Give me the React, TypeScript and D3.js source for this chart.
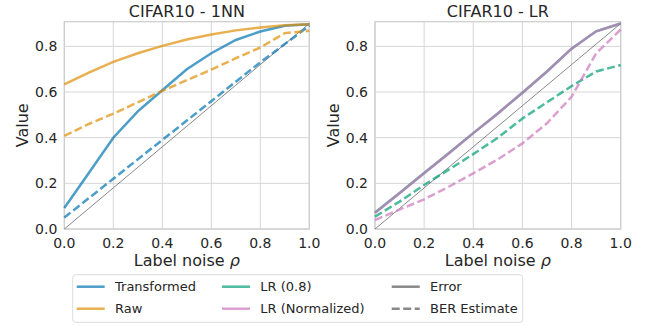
import * as d3 from "d3";
import { useEffect, useRef } from "react";

const noise = [0, 0.1, 0.2, 0.3, 0.4, 0.5, 0.6, 0.7, 0.8, 0.9, 1.0];
const yTicks = [0, 0.2, 0.4, 0.6, 0.8];
const xTicks = [0, 0.2, 0.4, 0.6, 0.8, 1.0];

// CIFAR10 - 1NN
const transformedErr = [0.092, 0.245, 0.4, 0.515, 0.608, 0.7, 0.77, 0.828, 0.865, 0.89, 0.897];
const transformedBer = [0.05, 0.135, 0.22, 0.305, 0.39, 0.475, 0.56, 0.645, 0.73, 0.81, 0.89];
const rawErr = [0.633, 0.685, 0.732, 0.77, 0.802, 0.83, 0.852, 0.87, 0.883, 0.892, 0.897];
const rawBer = [0.408, 0.46, 0.505, 0.555, 0.605, 0.652, 0.698, 0.748, 0.795, 0.858, 0.868];
const errorLine = [0, 0.09, 0.18, 0.27, 0.36, 0.45, 0.54, 0.63, 0.72, 0.81, 0.9];

// CIFAR10 - LR
const lr08Err = [0.072, 0.158, 0.245, 0.332, 0.42, 0.506, 0.597, 0.69, 0.79, 0.866, 0.9];
const lr08Ber = [0.054, 0.12, 0.193, 0.26, 0.328, 0.4, 0.484, 0.555, 0.626, 0.69, 0.718];
const lrNormErr = [0.07, 0.157, 0.244, 0.331, 0.42, 0.506, 0.597, 0.69, 0.79, 0.866, 0.9];
const lrNormBer = [0.039, 0.085, 0.13, 0.185, 0.244, 0.305, 0.375, 0.463, 0.579, 0.769, 0.874];

const blue = "#0173b2";
const orange = "#de8f05";
const green = "#029e73";
const pink = "#cc78bc";
const gray = "#555555";

type Series = { values: number[]; color: string; dashed: boolean; width: number; alpha: number };

const leftSeries: Series[] = [
  { values: errorLine, color: gray, dashed: false, width: 1, alpha: 0.7 },
  { values: transformedErr, color: blue, dashed: false, width: 2.5, alpha: 0.7 },
  { values: transformedBer, color: blue, dashed: true, width: 2.5, alpha: 0.7 },
  { values: rawErr, color: orange, dashed: false, width: 2.5, alpha: 0.7 },
  { values: rawBer, color: orange, dashed: true, width: 2.5, alpha: 0.7 },
];

const rightSeries: Series[] = [
  { values: errorLine, color: gray, dashed: false, width: 1, alpha: 0.7 },
  { values: lr08Err, color: green, dashed: false, width: 2.5, alpha: 0.7 },
  { values: lr08Ber, color: green, dashed: true, width: 2.5, alpha: 0.7 },
  { values: lrNormErr, color: pink, dashed: false, width: 2.5, alpha: 0.7 },
  { values: lrNormBer, color: pink, dashed: true, width: 2.5, alpha: 0.7 },
];

const legendItems = [
  { label: "Transformed", color: blue, dashed: false },
  { label: "Raw", color: orange, dashed: false },
  { label: "LR (0.8)", color: green, dashed: false },
  { label: "LR (Normalized)", color: pink, dashed: false },
  { label: "Error", color: gray, dashed: false },
  { label: "BER Estimate", color: gray, dashed: true },
];

export default function App() {
  const svgRef = useRef<SVGSVGElement | null>(null);
  const width = 651;
  const height = 326;

  useEffect(() => {
    if (!svgRef.current) return;
    const svg = d3.select(svgRef.current);
    svg.selectAll("*").remove();
    const font = "DejaVu Sans, sans-serif";
    const textColor = "#262626";

    const top = 21.7;
    const bottom = 229;
    const y = d3.scaleLinear().domain([0, 0.908]).range([bottom, top]);

    const drawPanel = (x0: number, x1: number, title: string, series: Series[]) => {
      const x = d3.scaleLinear().domain([0, 1]).range([x0, x1]);
      const g = svg.append("g");

      // grid
      g.selectAll(".gx")
        .data(xTicks)
        .enter()
        .append("line")
        .attr("x1", (d) => x(d))
        .attr("x2", (d) => x(d))
        .attr("y1", top)
        .attr("y2", bottom)
        .attr("stroke", "#d6d6d6")
        .attr("stroke-width", 1);
      g.selectAll(".gy")
        .data(yTicks)
        .enter()
        .append("line")
        .attr("x1", x0)
        .attr("x2", x1)
        .attr("y1", (d) => y(d))
        .attr("y2", (d) => y(d))
        .attr("stroke", "#d6d6d6")
        .attr("stroke-width", 1);

      // frame
      g.append("rect")
        .attr("x", x0)
        .attr("y", top)
        .attr("width", x1 - x0)
        .attr("height", bottom - top)
        .attr("fill", "none")
        .attr("stroke", "#cccccc")
        .attr("stroke-width", 1.2);

      const line = d3
        .line<number>()
        .x((_, i) => x(noise[i]))
        .y((d) => y(d));

      series.forEach((s) => {
        g.append("path")
          .datum(s.values)
          .attr("fill", "none")
          .attr("stroke", s.color)
          .attr("stroke-opacity", s.alpha)
          .attr("stroke-width", s.width)
          .attr("stroke-dasharray", s.dashed ? "8,3.5" : null)
          .attr("d", line);
      });

      // tick labels
      g.selectAll(".xt")
        .data(xTicks)
        .enter()
        .append("text")
        .attr("x", (d) => x(d))
        .attr("y", 248)
        .attr("text-anchor", "middle")
        .style("font-family", font)
        .style("font-size", "14px")
        .attr("fill", textColor)
        .text((d) => d.toFixed(1));
      g.selectAll(".yt")
        .data(yTicks)
        .enter()
        .append("text")
        .attr("x", x0 - 7)
        .attr("y", (d) => y(d) + 5)
        .attr("text-anchor", "end")
        .style("font-family", font)
        .style("font-size", "14px")
        .attr("fill", textColor)
        .text((d) => d.toFixed(1));

      // title and labels
      g.append("text")
        .attr("x", (x0 + x1) / 2)
        .attr("y", 16.7)
        .attr("text-anchor", "middle")
        .style("font-family", font)
        .style("font-size", "16px")
        .attr("fill", textColor)
        .text(title);
      const xl = g
        .append("text")
        .attr("x", (x0 + x1) / 2)
        .attr("y", 265.7)
        .attr("text-anchor", "middle")
        .style("font-family", font)
        .style("font-size", "16px")
        .attr("fill", textColor);
      xl.append("tspan").text("Label noise ");
      xl.append("tspan").style("font-style", "italic").text("ρ");
      g.append("text")
        .attr("transform", `translate(${x0 - 36},${(top + bottom) / 2}) rotate(-90)`)
        .attr("text-anchor", "middle")
        .style("font-family", font)
        .style("font-size", "16px")
        .attr("fill", textColor)
        .text("Value");
    };

    drawPanel(64.3, 309.3, "CIFAR10 - 1NN", leftSeries);
    drawPanel(375, 620.7, "CIFAR10 - LR", rightSeries);

    // legend
    const lg = svg.append("g");
    lg.append("rect")
      .attr("x", 72.7)
      .attr("y", 274.7)
      .attr("width", 450)
      .attr("height", 47.6)
      .attr("rx", 3)
      .attr("fill", "white")
      .attr("stroke", "#dddddd")
      .attr("stroke-width", 1);
    const colX = [76.7, 222, 391.7];
    const rowY = [286.7, 308.7];
    legendItems.forEach((item, i) => {
      const cx = colX[Math.floor(i / 2)];
      const cy = rowY[i % 2];
      lg.append("line")
        .attr("x1", cx)
        .attr("x2", cx + 28)
        .attr("y1", cy)
        .attr("y2", cy)
        .attr("stroke", item.color)
        .attr("stroke-opacity", 0.7)
        .attr("stroke-width", 2.5)
        .attr("stroke-dasharray", item.dashed ? "8,3.5" : null);
      lg.append("text")
        .attr("x", cx + 38.3)
        .attr("y", cy + 4.7)
        .style("font-family", font)
        .style("font-size", "13px")
        .attr("fill", textColor)
        .text(item.label);
    });
  }, []);

  return (
    <svg
      ref={svgRef}
      width={width}
      height={height}
      style={{ position: "absolute", left: 0, top: 0, background: "white" }}
    />
  );
}
